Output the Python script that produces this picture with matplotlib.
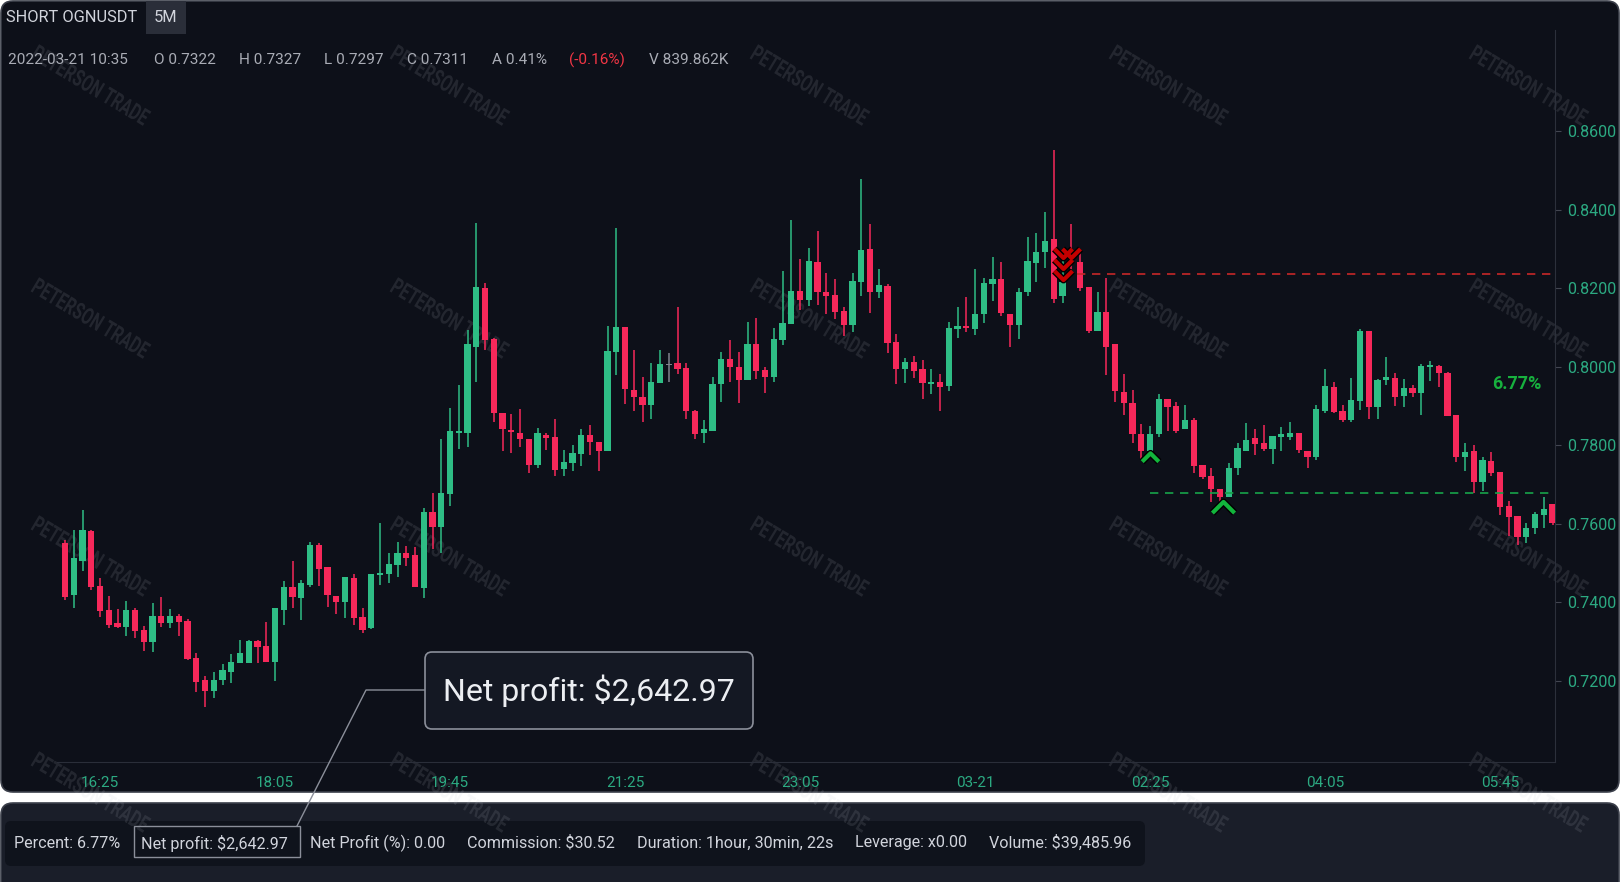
import numpy as np
import matplotlib
matplotlib.use("Agg")
import matplotlib.pyplot as plt
from matplotlib.patches import FancyBboxPatch, Rectangle, PathPatch
from matplotlib.lines import Line2D
from matplotlib.path import Path
from matplotlib.textpath import TextPath
from matplotlib.font_manager import FontProperties
from matplotlib.transforms import Affine2D

plt.rcParams['font.family'] = ['Roboto', 'DejaVu Sans']

# 5 minute candles, 16:05 -> 06:15
opens = [0.7550, 0.7418, 0.7506, 0.7582, 0.7441, 0.7380, 0.7346, 0.7338, 0.7380, 0.7329,
         0.7299, 0.7366, 0.7348, 0.7366, 0.7353, 0.7258, 0.7203, 0.7174, 0.7201, 0.7221,
         0.7246, 0.7246, 0.7300, 0.7288, 0.7247, 0.7380, 0.7438, 0.7411, 0.7444, 0.7546,
         0.7489, 0.7417, 0.7401, 0.7461, 0.7363, 0.7333, 0.7469, 0.7472, 0.7495, 0.7525,
         0.7519, 0.7435, 0.7631, 0.7591, 0.7676, 0.7830, 0.7832, 0.8051, 0.8200, 0.8070,
         0.7881, 0.7838, 0.7830, 0.7815, 0.7750, 0.7826, 0.7820, 0.7740, 0.7754, 0.7778,
         0.7826, 0.7808, 0.7784, 0.8038, 0.8100, 0.7941, 0.7924, 0.7902, 0.7959, 0.8005,
         0.8009, 0.7996, 0.7887, 0.7830, 0.7837, 0.7955, 0.8019, 0.7998, 0.7966, 0.8057,
         0.7992, 0.7973, 0.8068, 0.8110, 0.8192, 0.8170, 0.8266, 0.8190, 0.8182, 0.8142,
         0.8105, 0.8216, 0.8300, 0.8190, 0.8206, 0.8064, 0.7994, 0.8012, 0.7993, 0.7956,
         0.7961, 0.7950, 0.8096, 0.8104, 0.8096, 0.8134, 0.8211, 0.8223, 0.8134, 0.8105,
         0.8190, 0.8265, 0.8291, 0.8325, 0.8181, 0.8285, 0.8266, 0.8202, 0.8091, 0.8140,
         0.8058, 0.7935, 0.7907, 0.7829, 0.7784, 0.7829, 0.7918, 0.7901, 0.7841, 0.7864,
         0.7749, 0.7722, 0.7689, 0.7669, 0.7741, 0.7786, 0.7818, 0.7806, 0.7790, 0.7820,
         0.7820, 0.7830, 0.7786, 0.7771, 0.7888, 0.7948, 0.7886, 0.7864, 0.7913, 0.8091,
         0.7898, 0.7965, 0.7972, 0.7925, 0.7945, 0.7934, 0.8000, 0.8003, 0.7985, 0.7876,
         0.7771, 0.7786, 0.7705, 0.7759, 0.7732, 0.7644, 0.7620, 0.7567, 0.7589, 0.7621,
         0.7650]
highs = [0.7558, 0.7584, 0.7635, 0.7584, 0.7462, 0.7416, 0.7382, 0.7403, 0.7384, 0.7340,
         0.7399, 0.7412, 0.7382, 0.7369, 0.7358, 0.7270, 0.7212, 0.7223, 0.7242, 0.7268,
         0.7304, 0.7304, 0.7304, 0.7350, 0.7384, 0.7454, 0.7505, 0.7456, 0.7554, 0.7550,
         0.7489, 0.7417, 0.7465, 0.7472, 0.7384, 0.7472, 0.7601, 0.7526, 0.7554, 0.7543,
         0.7540, 0.7639, 0.7679, 0.7815, 0.7894, 0.7953, 0.8094, 0.8367, 0.8214, 0.8072,
         0.7881, 0.7880, 0.7892, 0.7815, 0.7843, 0.7832, 0.7866, 0.7788, 0.7801, 0.7841,
         0.7852, 0.7808, 0.8104, 0.8353, 0.8102, 0.8043, 0.7975, 0.8009, 0.8043, 0.8034,
         0.8153, 0.8009, 0.7890, 0.7863, 0.7975, 0.8038, 0.8068, 0.8038, 0.8113, 0.8123,
         0.7998, 0.8098, 0.8245, 0.8374, 0.8274, 0.8302, 0.8346, 0.8238, 0.8224, 0.8153,
         0.8238, 0.8479, 0.8363, 0.8249, 0.8211, 0.8083, 0.8021, 0.8028, 0.8016, 0.7993,
         0.7981, 0.8115, 0.8153, 0.8177, 0.8248, 0.8225, 0.8279, 0.8268, 0.8134, 0.8200,
         0.8331, 0.8340, 0.8395, 0.8552, 0.8280, 0.8364, 0.8291, 0.8202, 0.8190, 0.8225,
         0.8058, 0.7981, 0.7941, 0.7854, 0.7849, 0.7931, 0.7918, 0.7911, 0.7903, 0.7870,
         0.7749, 0.7741, 0.7689, 0.7754, 0.7805, 0.7856, 0.7841, 0.7851, 0.7824, 0.7846,
         0.7858, 0.7830, 0.7786, 0.7902, 0.7993, 0.7960, 0.7902, 0.7970, 0.8095, 0.8091,
         0.7968, 0.8024, 0.7983, 0.7968, 0.7953, 0.8006, 0.8015, 0.8005, 0.7987, 0.7878,
         0.7805, 0.7801, 0.7771, 0.7782, 0.7732, 0.7658, 0.7620, 0.7601, 0.7631, 0.7669,
         0.7650]
lows = [0.7405, 0.7386, 0.7480, 0.7432, 0.7363, 0.7335, 0.7335, 0.7315, 0.7308, 0.7276,
        0.7274, 0.7337, 0.7335, 0.7315, 0.7254, 0.7172, 0.7134, 0.7155, 0.7190, 0.7193,
        0.7246, 0.7246, 0.7246, 0.7247, 0.7200, 0.7341, 0.7386, 0.7354, 0.7439, 0.7440,
        0.7387, 0.7370, 0.7359, 0.7342, 0.7322, 0.7331, 0.7444, 0.7450, 0.7463, 0.7491,
        0.7438, 0.7410, 0.7535, 0.7525, 0.7644, 0.7790, 0.7796, 0.7962, 0.8043, 0.7860,
        0.7786, 0.7781, 0.7796, 0.7728, 0.7741, 0.7788, 0.7722, 0.7722, 0.7735, 0.7747,
        0.7775, 0.7733, 0.7784, 0.7979, 0.7904, 0.7887, 0.7858, 0.7866, 0.7959, 0.7961,
        0.7982, 0.7867, 0.7816, 0.7805, 0.7837, 0.7911, 0.7961, 0.7907, 0.7966, 0.7969,
        0.7932, 0.7960, 0.8055, 0.8110, 0.8145, 0.8155, 0.8157, 0.8134, 0.8121, 0.8077,
        0.8089, 0.8180, 0.8138, 0.8174, 0.8036, 0.7955, 0.7958, 0.7970, 0.7917, 0.7931,
        0.7888, 0.7939, 0.8072, 0.8089, 0.8081, 0.8112, 0.8168, 0.8128, 0.8050, 0.8070,
        0.8179, 0.8217, 0.8252, 0.8162, 0.8162, 0.8250, 0.8194, 0.8087, 0.8091, 0.7979,
        0.7911, 0.7877, 0.7805, 0.7764, 0.7770, 0.7822, 0.7837, 0.7832, 0.7841, 0.7729,
        0.7713, 0.7656, 0.7637, 0.7669, 0.7724, 0.7786, 0.7775, 0.7785, 0.7751, 0.7786,
        0.7813, 0.7779, 0.7741, 0.7762, 0.7881, 0.7881, 0.7860, 0.7860, 0.7890, 0.7867,
        0.7867, 0.7953, 0.7900, 0.7897, 0.7924, 0.7877, 0.7964, 0.7948, 0.7874, 0.7758,
        0.7735, 0.7677, 0.7684, 0.7722, 0.7622, 0.7569, 0.7546, 0.7552, 0.7573, 0.7588,
        0.7597]
closes = [0.7414, 0.7512, 0.7585, 0.7438, 0.7378, 0.7343, 0.7338, 0.7380, 0.7327, 0.7299,
          0.7366, 0.7348, 0.7366, 0.7350, 0.7256, 0.7197, 0.7174, 0.7203, 0.7227, 0.7247,
          0.7270, 0.7300, 0.7287, 0.7247, 0.7384, 0.7438, 0.7414, 0.7448, 0.7545, 0.7485,
          0.7418, 0.7401, 0.7465, 0.7361, 0.7329, 0.7472, 0.7474, 0.7497, 0.7525, 0.7512,
          0.7438, 0.7631, 0.7591, 0.7678, 0.7835, 0.7835, 0.8058, 0.8202, 0.8068, 0.7883,
          0.7841, 0.7833, 0.7815, 0.7750, 0.7830, 0.7818, 0.7737, 0.7756, 0.7779, 0.7826,
          0.7808, 0.7784, 0.8040, 0.8100, 0.7943, 0.7922, 0.7902, 0.7962, 0.8006, 0.8005,
          0.7993, 0.7886, 0.7828, 0.7841, 0.7955, 0.8019, 0.7998, 0.7966, 0.8057, 0.7990,
          0.7973, 0.8070, 0.8111, 0.8192, 0.8170, 0.8270, 0.8190, 0.8180, 0.8140, 0.8105,
          0.8219, 0.8297, 0.8190, 0.8208, 0.8061, 0.7994, 0.8012, 0.7990, 0.7959, 0.7962,
          0.7949, 0.8098, 0.8104, 0.8098, 0.8134, 0.8213, 0.8223, 0.8136, 0.8105, 0.8191,
          0.8270, 0.8293, 0.8321, 0.8173, 0.8217, 0.8266, 0.8200, 0.8091, 0.8140, 0.8051,
          0.7937, 0.7907, 0.7829, 0.7784, 0.7829, 0.7918, 0.7898, 0.7837, 0.7864, 0.7747,
          0.7720, 0.7688, 0.7669, 0.7741, 0.7792, 0.7813, 0.7803, 0.7790, 0.7824, 0.7828,
          0.7830, 0.7788, 0.7771, 0.7891, 0.7952, 0.7884, 0.7864, 0.7915, 0.8091, 0.7898,
          0.7966, 0.7973, 0.7924, 0.7945, 0.7934, 0.8003, 0.8005, 0.7983, 0.7874, 0.7771,
          0.7782, 0.7705, 0.7762, 0.7730, 0.7642, 0.7618, 0.7567, 0.7590, 0.7624, 0.7637,
          0.7601]

time_ticks = [4, 24, 44, 64, 84, 104, 124, 144, 164]
time_labels = ['16:25', '18:05', '19:45', '21:25', '23:05', '03-21', '02:25', '04:05', '05:45']
price_ticks = [0.72, 0.74, 0.76, 0.78, 0.80, 0.82, 0.84, 0.86]

entry_start, entry_price = 115.6, 0.8235
target_start, target_price = 124, 0.7677
short_x = [114.1, 114.1, 114.1, 115.0]
short_y = [0.8290, 0.8262, 0.8234, 0.8290]
cover_x = [124.0, 132.3]
cover_y = [0.7770, 0.7643]
cover_ms = [12, 16]
pct_text, pct_x, pct_y = '6.77%', 168.7, 0.7956

header_top = 'SHORT OGNUSDT'
timeframe = '5M'
info_texts = ['2022-03-21 10:35', 'O 0.7322', 'H 0.7327', 'L 0.7297', 'C 0.7311',
              'A 0.41%', '(-0.16%)', 'V 839.862K']
footer_texts = ['Percent: 6.77%', 'Net profit: $2,642.97', 'Net Profit (%): 0.00',
                'Commission: $30.52', 'Duration: 1hour, 30min, 22s', 'Leverage: x0.00',
                'Volume: $39,485.96']
callout_text = 'Net profit: $2,642.97'

GREEN = '#2ebd85'
RED = '#f6285a'
GRAY = '#80838e'
TEAL = '#2caa82'

W, H = 1620, 882
fig = plt.figure(figsize=(W / 100, H / 100), dpi=100, facecolor='white')
inch = fig.dpi_scale_trans


def box(x0, y0, x1, y1, fc, ec='none', lw=0, r=0.1, z=-10):
    p = FancyBboxPatch((x0 / 100, (H - y1) / 100), (x1 - x0) / 100, (y1 - y0) / 100,
                       boxstyle='round,pad=0,rounding_size=%g' % r, fc=fc, ec=ec, lw=lw,
                       transform=inch, zorder=z)
    fig.add_artist(p)


def ftext(x, y, s, **kw):
    return fig.text(x / W, 1 - y / H, s, **kw)


# panels
box(1, 1, 1619, 792, '#0d1019', '#3b3f4a', 1.2, r=0.12)
box(1, 803, 1619, 910, '#1a1e29', '#3b3f4a', 1.2, r=0.12)
box(5, 821, 1145, 866, '#0f131c', r=0.06, z=-9)
fig.add_artist(Rectangle((146 / 100, (H - 34) / 100), 40 / 100, 33 / 100, fc='#2a2e39',
                         ec='none', transform=inch, zorder=-8))

# watermark
fp = FontProperties(family='Roboto', weight='bold')
tp = TextPath((0, 0), 'PETERSON TRADE', size=1, prop=fp)
ext = tp.get_extents()
cx, cy = (ext.x0 + ext.x1) / 2, (ext.y0 + ext.y1) / 2
sx, sy = 131 / ext.width, 17 / ext.height
for wy in [85, 318, 556, 792]:
    for wx in [91, 450, 810, 1169, 1529]:
        tr = (Affine2D().translate(-cx, -cy).scale(sx, sy).rotate_deg(-31)
              .translate(wx, H - wy).scale(0.01) + inch)
        fig.add_artist(PathPatch(tp, transform=tr, fc='#c3c7d1', ec='none', alpha=0.12, zorder=-5))

# main axes
L, R, T, B = 57, 1555, 30, 762
x0, step = 65, 8.75
y0, p0, ppu = 131.2, 0.86, 3925
ax = fig.add_axes([L / W, 1 - B / H, (R - L) / W, (B - T) / H])
ax.set_facecolor('none')
ax.set_xlim((L - x0) / step, (R - x0) / step)
ax.set_ylim(p0 - (B - y0) / ppu, p0 + (y0 - T) / ppu)

o = np.array(opens)
h = np.array(highs)
l = np.array(lows)
c = np.array(closes)
idx = np.arange(len(o))
col = np.where(c > o, GREEN, np.where(c < o, RED, GRAY))
ax.vlines(idx, l, h, colors=col, lw=1.1, zorder=2)
ax.bar(idx, np.maximum(np.abs(c - o), 0.00025), bottom=np.minimum(o, c), width=0.72,
       color=col, lw=0, zorder=3)

ax.hlines(entry_price, entry_start, ax.get_xlim()[1], colors='#c62828', lw=1.2,
          linestyles=(0, (5, 4)), zorder=4)
ax.hlines(target_price, target_start, ax.get_xlim()[1], colors='#17a34a', lw=1.2,
          linestyles=(0, (5, 4)), zorder=4)

down = Path([(-1, 0.5), (0, -0.5), (1, 0.5)], [Path.MOVETO, Path.LINETO, Path.LINETO])
up = Path([(-1, -0.5), (0, 0.5), (1, -0.5)], [Path.MOVETO, Path.LINETO, Path.LINETO])
ax.plot(short_x, short_y, ls='none', marker=down, ms=13, mew=5, mec='black', mfc='none', zorder=6)
ax.plot(short_x, short_y, ls='none', marker=down, ms=13, mew=3, mec='#c40000', mfc='none', zorder=7)
for xx, yy, ms in zip(cover_x, cover_y, cover_ms):
    ax.plot([xx], [yy], ls='none', marker=up, ms=ms, mew=5, mec='black', mfc='none', zorder=6)
    ax.plot([xx], [yy], ls='none', marker=up, ms=ms, mew=3, mec='#12b53c', mfc='none', zorder=7)

ax.text(pct_x, pct_y, pct_text, ha='right', va='center', color='#17b13e', fontsize=13,
        fontweight='bold', zorder=8)

for s in ['top', 'left']:
    ax.spines[s].set_visible(False)
ax.spines['right'].set_color('#2c303b')
ax.spines['bottom'].set_color('#2a2e39')
ax.yaxis.tick_right()
ax.set_yticks(price_ticks)
ax.set_yticklabels(['%.4f' % p for p in price_ticks])
ax.tick_params(axis='y', length=4, color='#434651', labelcolor=TEAL, labelsize=11.5, pad=5)
ax.set_xticks(time_ticks)
ax.set_xticklabels(time_labels)
ax.tick_params(axis='x', length=0, labelcolor=TEAL, labelsize=11, pad=10)

# header
ftext(6, 17, header_top, ha='left', va='center', color='#d1d4dc', fontsize=11.8)
ftext(166, 17, timeframe, ha='center', va='center', color='#d1d4dc', fontsize=11.8)
info_x = [8, 154, 239, 324, 407, 492, 569, 649]
for xx, s in zip(info_x, info_texts):
    ftext(xx, 60, s, ha='left', va='center', fontsize=11.1,
          color='#f23645' if s.startswith('(') else '#a9acb5')

# callout
box(425, 652, 753, 729, '#141823', '#8b8f9a', 1.2, r=0.07, z=5)
ftext(589, 691, callout_text, ha='center', va='center', fontsize=23, color='#eceef2', zorder=6)
fig.add_artist(Line2D([425 / W, 366 / W, 297 / W], [1 - 690 / H, 1 - 690 / H, 1 - 826 / H],
                      transform=fig.transFigure, color='#8b8f9a', lw=1, zorder=4))

# footer
fig.add_artist(Rectangle((134 / 100, (H - 857) / 100), 166 / 100, 31 / 100, fill=False,
                         ec='#8b8f9a', lw=1, transform=inch, zorder=-4))
footer_x = [14, 141, 310, 467, 637, 855, 989]
for xx, s in zip(footer_x, footer_texts):
    ftext(xx, 843, s, ha='left', va='center', fontsize=11.6, color='#d1d4dc')

fig.savefig('out.png', dpi=100, facecolor='white')
